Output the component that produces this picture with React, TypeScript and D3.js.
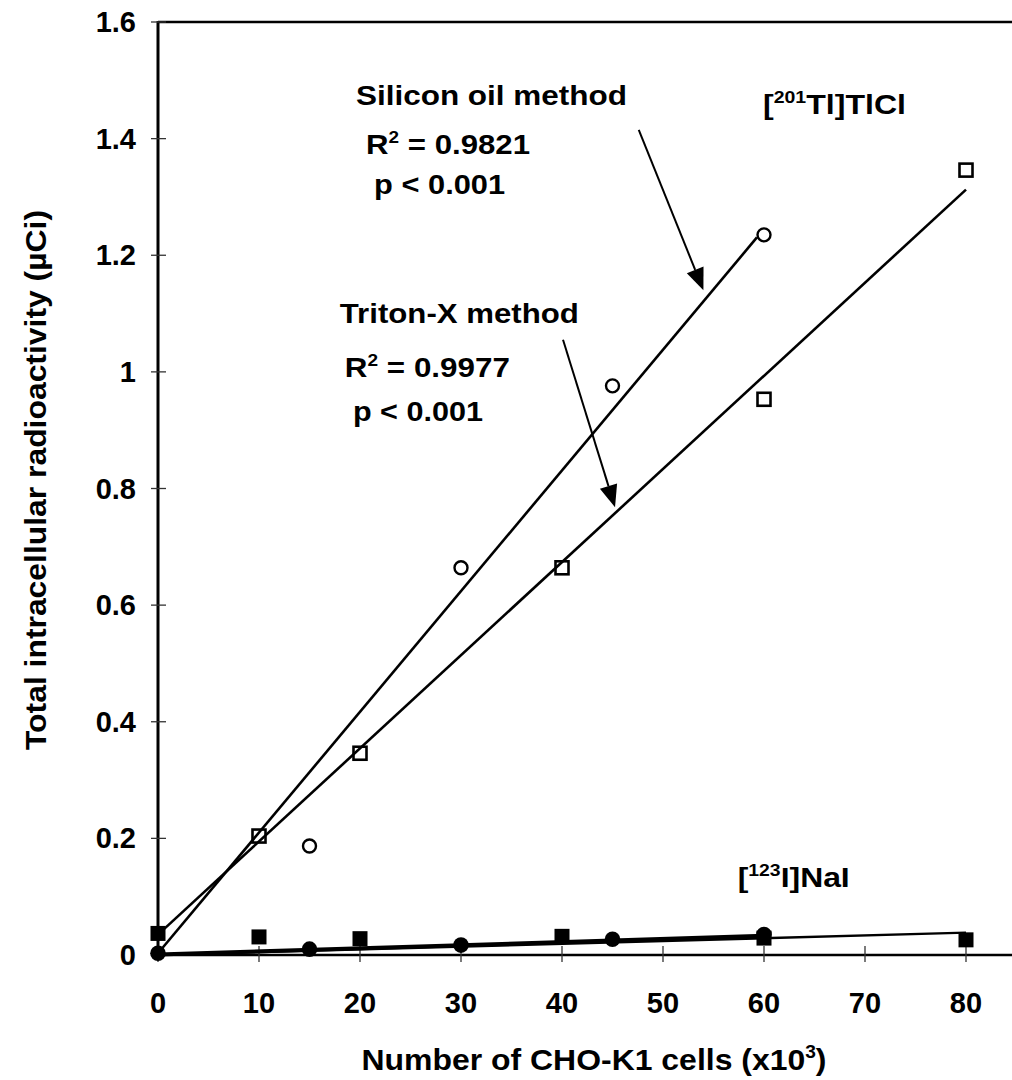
import React from "react";
import * as d3 from "d3";

// ---- data ----
const xTickValues = [0, 10, 20, 30, 40, 50, 60, 70, 80];
const yTickValues = [0, 0.2, 0.4, 0.6, 0.8, 1.0, 1.2, 1.4, 1.6];
const yTickLabels = ["0", "0.2", "0.4", "0.6", "0.8", "1", "1.2", "1.4", "1.6"];

// [201Tl]TlCl, Triton-X method (open squares)
const tritonTlX = [10, 20, 40, 60, 80];
const tritonTlY = [0.204, 0.346, 0.664, 0.953, 1.346];
// [201Tl]TlCl, Silicon oil method (open circles)
const siliconTlX = [15, 30, 45, 60];
const siliconTlY = [0.187, 0.664, 0.976, 1.235];
// [123I]NaI, Triton-X method (filled squares)
const tritonNaIX = [0, 10, 20, 40, 60, 80];
const tritonNaIY = [0.037, 0.031, 0.028, 0.032, 0.029, 0.026];
// [123I]NaI, Silicon oil method (filled circles)
const siliconNaIX = [0, 15, 30, 45, 60];
const siliconNaIY = [0.003, 0.01, 0.017, 0.027, 0.035];

// fitted lines: [xStart, xEnd, intercept, slope]
const fitSiliconTl = [0, 59.3, 0.003, 0.0207];
const fitTritonTl = [0, 80, 0.035, 0.01597];
const fitSiliconNaI = [0, 60, 0.001, 0.00053];
const fitTritonNaI = [0, 80, 0.0, 0.00048];

// annotation arrows (data units): [x1, y1, x2, y2]
const arrowSilicon = [47.6, 1.415, 54.0, 1.14];
const arrowTriton = [40.1, 1.055, 45.25, 0.768];

const FONT = "'Liberation Sans', Arial, Helvetica, sans-serif";

const W = 1012;
const H = 1080;

const x = d3.scaleLinear().domain([0, 80]).range([158, 966]);
const y = d3.scaleLinear().domain([0, 1.6]).range([955, 22]);

function fitPath(f: number[]) {
  const [x0, x1, b, m] = f;
  return d3.line<number>()
    .x((v) => x(v))
    .y((v) => y(b + m * v))([x0, x1]) as string;
}

function Arrow({ a }: { a: number[] }) {
  const [x1, y1, x2, y2] = a;
  const px1 = x(x1), py1 = y(y1), px2 = x(x2), py2 = y(y2);
  const ang = Math.atan2(py2 - py1, px2 - px1);
  const len = 22, hw = 9;
  const bx = px2 - len * Math.cos(ang), by = py2 - len * Math.sin(ang);
  const nx = -Math.sin(ang), ny = Math.cos(ang);
  const pts = [
    [px2, py2],
    [bx + hw * nx, by + hw * ny],
    [bx - hw * nx, by - hw * ny],
  ];
  return (
    <g>
      <line x1={px1} y1={py1} x2={bx} y2={by} stroke="#000" strokeWidth={2} />
      <polygon points={pts.map((p) => p.join(",")).join(" ")} fill="#000" />
    </g>
  );
}

// text made of [before, superscript, after]
function SupText({ parts, supSize = 17, up = 11, ...rest }: any) {
  const [a, s, b] = parts;
  return (
    <text {...rest}>
      <tspan>{a}</tspan>
      <tspan fontSize={supSize} dy={-up}>{s}</tspan>
      <tspan dy={up}>{b}</tspan>
    </text>
  );
}

export default function App() {
  const tt: any = { fontFamily: FONT, fontWeight: "bold", fill: "#000" };
  const ann: any = { ...tt, fontSize: 28, lengthAdjust: "spacingAndGlyphs" };
  return (
    <svg
      width={W}
      height={H}
      viewBox={`0 0 ${W} ${H}`}
      style={{ position: "absolute", left: 0, top: 0, display: "block", background: "#fff" }}
    >
      <rect x={0} y={0} width={W} height={H} fill="#fff" />

      {/* frame */}
      <line x1={x(0)} y1={y(1.6)} x2={W} y2={y(1.6)} stroke="#000" strokeWidth={2.5} />
      <line x1={x(0)} y1={y(1.6) - 1} x2={x(0)} y2={y(0) + 3} stroke="#000" strokeWidth={3} />
      <line x1={x(0)} y1={y(0)} x2={W} y2={y(0)} stroke="#000" strokeWidth={2.5} />

      {/* y ticks */}
      {yTickValues.map((v, i) => (
        <g key={"yt" + i}>
          <line x1={x(0) - 7} x2={x(0) + 8} y1={y(v)} y2={y(v)} stroke="#333" strokeWidth={1.3} />
          <text x={136} y={y(v) + 10} textAnchor="end" fontSize={29} {...tt}>
            {yTickLabels[i]}
          </text>
        </g>
      ))}

      {/* x ticks */}
      {xTickValues.map((v, i) => (
        <g key={"xt" + i}>
          <line x1={x(v)} x2={x(v)} y1={y(0) - 9} y2={y(0) + 7} stroke="#333" strokeWidth={1.3} />
          <text x={x(v)} y={1013} textAnchor="middle" fontSize={29} {...tt}>
            {String(v)}
          </text>
        </g>
      ))}

      {/* axis titles */}
      <SupText
        parts={["Number of CHO-K1 cells (x10", "3", ")"]}
        supSize={18}
        up={12}
        x={594}
        y={1070}
        textAnchor="middle"
        fontSize={30}
        textLength={465}
        lengthAdjust="spacingAndGlyphs"
        {...tt}
      />
      <text
        transform={`translate(46, 480) rotate(-90)`}
        textAnchor="middle"
        fontSize={30}
        textLength={540}
        lengthAdjust="spacingAndGlyphs"
        {...tt}
      >
        Total intracellular radioactivity (µCi)
      </text>

      {/* fitted lines */}
      <path d={fitPath(fitSiliconTl)} stroke="#000" strokeWidth={2.6} fill="none" />
      <path d={fitPath(fitTritonTl)} stroke="#000" strokeWidth={2.6} fill="none" />
      <path d={fitPath(fitSiliconNaI)} stroke="#000" strokeWidth={4} fill="none" />
      <path d={fitPath(fitTritonNaI)} stroke="#000" strokeWidth={2.4} fill="none" />

      {/* markers: open squares */}
      {tritonTlX.map((v, i) => (
        <rect
          key={"os" + i}
          x={x(v) - 6.5}
          y={y(tritonTlY[i]) - 6.5}
          width={13}
          height={13}
          fill="none"
          stroke="#000"
          strokeWidth={2.6}
        />
      ))}
      {/* open circles */}
      {siliconTlX.map((v, i) => (
        <circle key={"oc" + i} cx={x(v)} cy={y(siliconTlY[i])} r={6.5} fill="none" stroke="#000" strokeWidth={2.4} />
      ))}
      {/* filled squares */}
      {tritonNaIX.map((v, i) => (
        <rect key={"fs" + i} x={x(v) - 7.5} y={y(tritonNaIY[i]) - 7.5} width={15} height={15} fill="#000" />
      ))}
      {/* filled circles */}
      {siliconNaIX.map((v, i) => (
        <circle key={"fc" + i} cx={x(v)} cy={y(siliconNaIY[i])} r={7.8} fill="#000" />
      ))}

      {/* arrows */}
      <Arrow a={arrowSilicon} />
      <Arrow a={arrowTriton} />

      {/* annotations */}
      <text x={x(19.6)} y={y(1.458)} textLength={271} {...ann}>
        Silicon oil method
      </text>
      <SupText parts={["R", "2", " = 0.9821"]} x={x(20.6)} y={y(1.374)} textLength={164} {...ann} />
      <text x={x(21.4)} y={y(1.305)} textLength={131} {...ann}>
        p &lt; 0.001
      </text>
      <SupText parts={["[", "201", "Tl]TlCl"]} x={x(59.9)} y={y(1.442)} textLength={143} {...ann} />
      <text x={x(18.0)} y={y(1.084)} textLength={239} {...ann}>
        Triton-X method
      </text>
      <SupText parts={["R", "2", " = 0.9977"]} x={x(18.5)} y={y(0.991)} textLength={165} {...ann} />
      <text x={x(19.3)} y={y(0.916)} textLength={130} {...ann}>
        p &lt; 0.001
      </text>
      <SupText parts={["[", "123", "I]NaI"]} x={x(57.4)} y={y(0.117)} textLength={112} {...ann} />
    </svg>
  );
}
